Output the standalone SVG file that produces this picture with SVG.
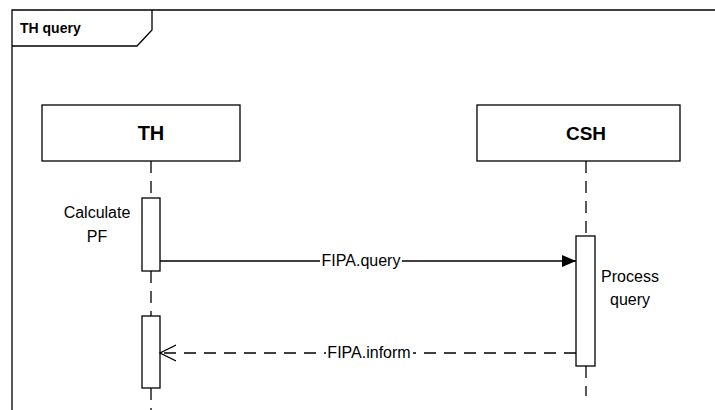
<svg xmlns="http://www.w3.org/2000/svg" width="715" height="410" viewBox="0 0 715 410">
<style>
.ln{stroke:#000;stroke-width:1.3;fill:none}
.box{fill:#fff;stroke:#000;stroke-width:1.3}
.ll{stroke:#000;stroke-width:1.3;stroke-dasharray:12,8;fill:none}
.t{font-family:"Liberation Sans",Arial,sans-serif;font-size:16px;fill:#000}
.b{font-family:"Liberation Sans",Arial,sans-serif;font-weight:bold;fill:#000}
</style>
<defs>
<marker id="filled" markerWidth="14" markerHeight="12" refX="14" refY="6" orient="auto" markerUnits="userSpaceOnUse">
<path d="M0,0 L14,6 L0,12 Z" fill="#000"/>
</marker>
<marker id="open" markerWidth="18" markerHeight="18" refX="16" refY="9" orient="auto" markerUnits="userSpaceOnUse">
<path d="M0,1 L16,9 L0,17" fill="none" stroke="#000" stroke-width="1.3"/>
</marker>
</defs>
<rect width="715" height="410" fill="#fff"/>
<g id="frame">
<path class="ln" d="M12,410 L12,10 L715,10"/>
<path class="ln" d="M12,46 L137,46 L152,30 L152,10"/>
<text class="b" x="20" y="33" font-size="14">TH query</text>
</g>
<g id="lifelines">
<line class="ll" x1="151" y1="161" x2="151" y2="198"/>
<line class="ll" x1="151" y1="271" x2="151" y2="316"/>
<line class="ll" x1="151" y1="388" x2="151" y2="410"/>
<line class="ll" x1="586" y1="161" x2="586" y2="236"/>
<line class="ll" x1="586" y1="366" x2="586" y2="396"/>
</g>
<g id="TH">
<rect class="box" x="42" y="105" width="198" height="56"/>
<text class="b" x="151" y="140" font-size="20" text-anchor="middle">TH</text>
</g>
<g id="CSH">
<rect class="box" x="477" y="105" width="203" height="56"/>
<text class="b" x="586" y="140" font-size="19" text-anchor="middle">CSH</text>
</g>
<g id="act_th1">
<rect class="box" x="142" y="198" width="18" height="73"/>
<text class="t" text-anchor="middle" x="97" y="218">Calculate</text>
<text class="t" text-anchor="middle" x="97" y="242">PF</text>
</g>
<g id="act_csh">
<rect class="box" x="576" y="236" width="19" height="130"/>
<text class="t" text-anchor="middle" x="630" y="282">Process</text>
<text class="t" text-anchor="middle" x="630" y="305">query</text>
</g>
<g id="act_th2">
<rect class="box" x="142" y="316" width="18" height="72"/>
</g>
<g id="connectors">
<line class="ln" x1="160" y1="261" x2="576" y2="261" marker-end="url(#filled)"/>
<rect x="320" y="252" width="82" height="18" fill="#fff"/>
<text class="t" x="361" y="266" text-anchor="middle">FIPA.query</text>
<line class="ll" x1="576" y1="353" x2="160" y2="353" marker-end="url(#open)"/>
<rect x="326" y="344" width="87" height="18" fill="#fff"/>
<text class="t" x="369" y="358" text-anchor="middle">FIPA.inform</text>
</g>
</svg>
